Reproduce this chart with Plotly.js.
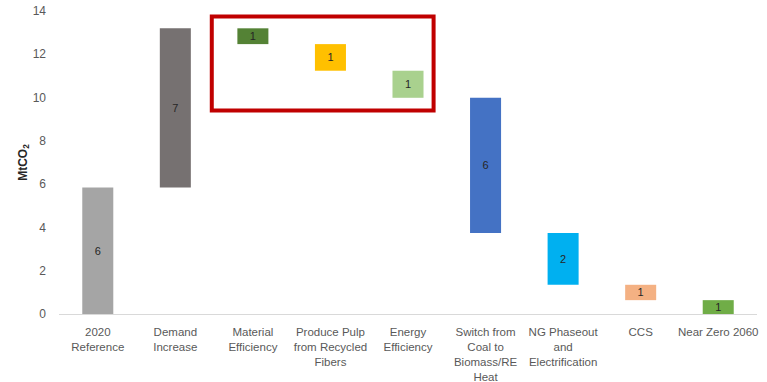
<!DOCTYPE html>
<html>
<head>
<meta charset="utf-8">
<script src="https://cdn.plot.ly/plotly-3.0.1.min.js"></script>
<style>
  html, body { margin: 0; padding: 0; background: #ffffff; }
  #chart { width: 767px; height: 382px; }
</style>
</head>
<body>
<div id="chart"></div>
<script>
// Emission pathway steps (MtCO2): starting level, changes, and the resulting end level
const categories = [
  '2020<br>Reference',
  'Demand<br>Increase',
  'Material<br>Efficiency',
  'Produce Pulp<br>from Recycled<br>Fibers',
  'Energy<br>Efficiency',
  'Switch from<br>Coal to<br>Biomass/RE<br>Heat',
  'NG Phaseout<br>and<br>Electrification',
  'CCS',
  'Near Zero 2060'
];
const reference2020 = 5.85;
const stepChanges = [7.35, -0.73, -1.23, -1.25, -6.25, -2.39, -0.71];
const barColors = [
  '#A5A5A5', '#767171', '#548235', '#FFC000', '#A9D18E',
  '#4472C4', '#00B0F0', '#F4B183', '#70AD47'
];

// Build floating bars: each step sits on the running total
const bases = [0];
const heights = [reference2020];
let level = reference2020;
stepChanges.forEach(function (d) {
  const next = level + d;
  bases.push(Math.min(level, next));
  heights.push(Math.abs(d));
  level = next;
});
bases.push(0);
heights.push(level);

const trace = {
  type: 'bar',
  x: categories,
  y: heights,
  base: bases,
  width: 0.4,
  marker: { color: barColors, line: { width: 0 } },
  text: heights.map(function (v) { return Math.round(v).toString(); }),
  textposition: 'inside',
  insidetextanchor: 'middle',
  textangle: 0,
  constraintext: 'none',
  textfont: { family: 'Liberation Sans, Arial, sans-serif', size: 11, color: '#262626' },
  hoverinfo: 'skip'
};

const layout = {
  width: 767,
  height: 382,
  margin: { l: 59, r: 10, t: 11, b: 68 },
  paper_bgcolor: '#ffffff',
  plot_bgcolor: '#ffffff',
  showlegend: false,
  bargap: 0.6,
  font: { family: 'Liberation Sans, Arial, sans-serif', color: '#595959' },
  xaxis: {
    type: 'category',
    showgrid: false,
    zeroline: false,
    showline: true,
    linecolor: '#D9D9D9',
    linewidth: 1,
    ticks: '',
    ticklabelstandoff: 7,
    tickfont: { size: 11.5, color: '#595959' },
    automargin: false
  },
  yaxis: {
    range: [0, 14],
    dtick: 2,
    showgrid: false,
    zeroline: false,
    showline: false,
    ticks: '',
    ticklabelstandoff: 12,
    tickfont: { size: 12, color: '#595959' },
    title: {
      text: '<b>MtCO<sub>2</sub></b>',
      font: { size: 12, color: '#262626' },
      standoff: 2
    },
    automargin: false
  },
  shapes: [
    {
      type: 'rect',
      xref: 'x', yref: 'y',
      x0: 1.47, x1: 4.33,
      y0: 9.4, y1: 13.75,
      line: { color: '#C00000', width: 4 },
      fillcolor: 'rgba(0,0,0,0)'
    }
  ]
};

Plotly.newPlot('chart', [trace], layout, { displayModeBar: false, staticPlot: true });
</script>
</body>
</html>
